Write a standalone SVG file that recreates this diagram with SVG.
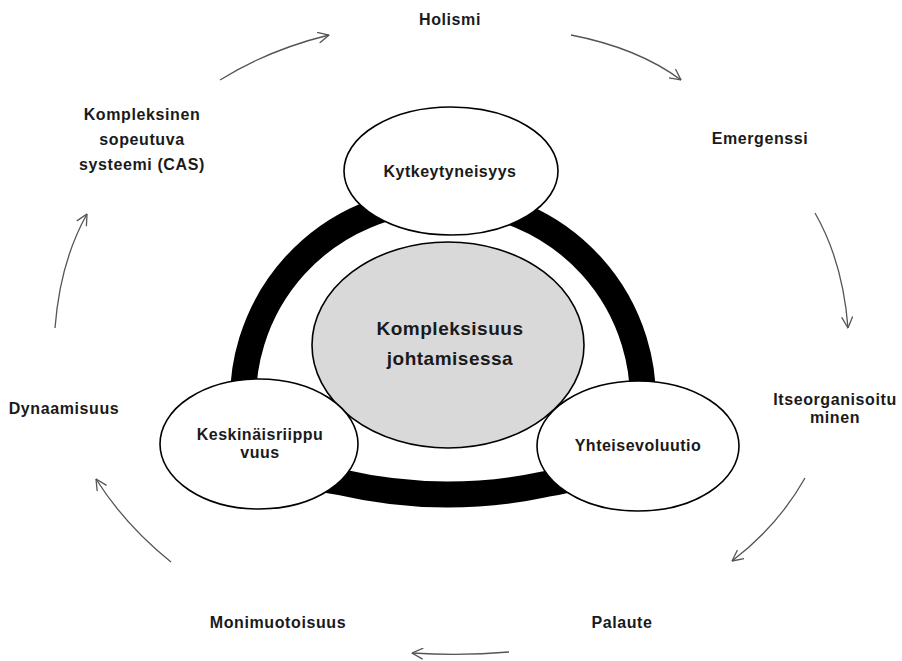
<svg xmlns="http://www.w3.org/2000/svg" width="902" height="661" viewBox="0 0 902 661">
<defs>
<style>
.lbl{font-family:"Liberation Sans",Arial,sans-serif;font-weight:bold;font-size:16px;letter-spacing:0.6px;fill:#1a1a1a;text-anchor:middle}
.nd{font-family:"Liberation Sans",Arial,sans-serif;font-weight:bold;font-size:16px;letter-spacing:0.5px;fill:#1a1a1a;text-anchor:middle}
.ctr{font-family:"Liberation Sans",Arial,sans-serif;font-weight:bold;font-size:19px;letter-spacing:0.5px;fill:#1a1a1a;text-anchor:middle}
.sat{fill:#fff;stroke:#000;stroke-width:1.6}
.arr{fill:none;stroke:#555;stroke-width:1.3;marker-end:url(#ah)}
</style>
<marker id="ah" viewBox="0 0 12 12" refX="11.5" refY="6" markerWidth="12" markerHeight="12" markerUnits="userSpaceOnUse" orient="auto">
<path d="M0.5,0.5 L11.5,6 L0.5,11.5" fill="none" stroke="#555" stroke-width="1.3"/>
</marker>
</defs>
<rect width="902" height="661" fill="#fff"/>

<g id="ring">
<path d="M443,200 A200,200 0 0 0 244,420 Q250,470 340,482 Q443,506 546,484 Q636,470 642,420 A200,200 0 0 0 443,200 Z" fill="none" stroke="#000" stroke-width="26"/>
</g>

<g id="connectors">
<path class="arr" d="M220,80 Q268,50 329,35"/>
<path class="arr" d="M571,35 Q638,48 681,80"/>
<path class="arr" d="M815,213 Q843,262 848,328"/>
<path class="arr" d="M805,478 Q778,526 732,561"/>
<path class="arr" d="M509,652 Q462,656 412,653"/>
<path class="arr" d="M171,562 Q125,525 96,479"/>
<path class="arr" d="M55,328 Q60,262 87,214"/>
</g>

<g id="node-center">
<ellipse cx="448" cy="345" rx="136" ry="103" fill="#d9d9d9" stroke="#000" stroke-width="1.6"/>
<text class="ctr" x="450" y="335">Kompleksisuus</text>
<text class="ctr" x="450" y="365">johtamisessa</text>
</g>

<g id="node-kytkeytyneisyys">
<ellipse class="sat" cx="451" cy="171" rx="107" ry="64"/>
<text class="nd" x="450" y="177">Kytkeytyneisyys</text>
</g>

<g id="node-keskinaisriippuvuus">
<ellipse class="sat" cx="259" cy="444" rx="99" ry="65"/>
<text class="nd" x="260" y="440">Keskinäisriippu</text>
<text class="nd" x="260" y="458">vuus</text>
</g>

<g id="node-yhteisevoluutio">
<ellipse class="sat" cx="638" cy="446" rx="101" ry="65"/>
<text class="nd" x="638" y="451">Yhteisevoluutio</text>
</g>

<g id="node-holismi"><text class="lbl" x="450" y="25">Holismi</text></g>
<g id="node-emergenssi"><text class="lbl" x="760" y="144">Emergenssi</text></g>
<g id="node-itseorganisoituminen">
<text class="lbl" x="835" y="405">Itseorganisoitu</text>
<text class="lbl" x="835" y="423">minen</text>
</g>
<g id="node-palaute"><text class="lbl" x="622" y="628">Palaute</text></g>
<g id="node-monimuotoisuus"><text class="lbl" x="278" y="628">Monimuotoisuus</text></g>
<g id="node-dynaamisuus"><text class="lbl" x="64" y="414">Dynaamisuus</text></g>
<g id="node-cas">
<text class="lbl" x="142" y="120">Kompleksinen</text>
<text class="lbl" x="142" y="145">sopeutuva</text>
<text class="lbl" x="142" y="170">systeemi (CAS)</text>
</g>
</svg>
